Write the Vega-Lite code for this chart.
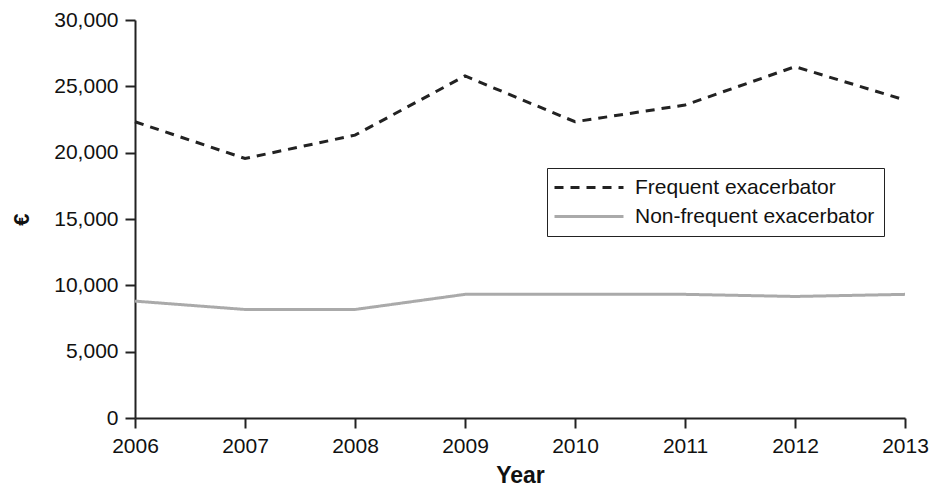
{
  "$schema": "https://vega.github.io/schema/vega-lite/v6.json",
  "width": 770,
  "height": 398,
  "autosize": {"type": "none"},
  "padding": {"left": 135, "top": 20, "right": 25, "bottom": 71},
  "background": "white",
  "config": {
    "view": {"stroke": null},
    "font": "Liberation Sans"
  },
  "data": {
    "values": [
      {"Year": 2006, "Group": "Frequent exacerbator", "Cost": 22330},
      {"Year": 2007, "Group": "Frequent exacerbator", "Cost": 19560},
      {"Year": 2008, "Group": "Frequent exacerbator", "Cost": 21320},
      {"Year": 2009, "Group": "Frequent exacerbator", "Cost": 25780},
      {"Year": 2010, "Group": "Frequent exacerbator", "Cost": 22330},
      {"Year": 2011, "Group": "Frequent exacerbator", "Cost": 23590},
      {"Year": 2012, "Group": "Frequent exacerbator", "Cost": 26480},
      {"Year": 2013, "Group": "Frequent exacerbator", "Cost": 23970},
      {"Year": 2006, "Group": "Non-frequent exacerbator", "Cost": 8810},
      {"Year": 2007, "Group": "Non-frequent exacerbator", "Cost": 8180},
      {"Year": 2008, "Group": "Non-frequent exacerbator", "Cost": 8180},
      {"Year": 2009, "Group": "Non-frequent exacerbator", "Cost": 9320},
      {"Year": 2010, "Group": "Non-frequent exacerbator", "Cost": 9320},
      {"Year": 2011, "Group": "Non-frequent exacerbator", "Cost": 9320},
      {"Year": 2012, "Group": "Non-frequent exacerbator", "Cost": 9160},
      {"Year": 2013, "Group": "Non-frequent exacerbator", "Cost": 9320}
    ]
  },
  "mark": {"type": "line", "strokeWidth": 3},
  "encoding": {
    "x": {
      "field": "Year",
      "type": "quantitative",
      "scale": {"domain": [2006, 2013], "nice": false, "zero": false},
      "axis": {
        "values": [2006, 2007, 2008, 2009, 2010, 2011, 2012, 2013],
        "format": "d",
        "grid": false,
        "labelFlush": false,
        "domainColor": "#222222",
        "domainWidth": 2,
        "tickColor": "#222222",
        "tickWidth": 2,
        "tickSize": 10,
        "labelFontSize": 21,
        "labelColor": "#111111",
        "labelPadding": 7,
        "title": "Year",
        "titleFontSize": 23,
        "titleFontWeight": "bold",
        "titleColor": "#111111",
        "titlePadding": 8
      }
    },
    "y": {
      "field": "Cost",
      "type": "quantitative",
      "scale": {"domain": [0, 30000], "nice": false},
      "axis": {
        "values": [0, 5000, 10000, 15000, 20000, 25000, 30000],
        "format": ",.0f",
        "grid": false,
        "domainColor": "#222222",
        "domainWidth": 2,
        "tickColor": "#222222",
        "tickWidth": 2,
        "tickSize": 10,
        "labelFontSize": 21,
        "labelColor": "#111111",
        "labelPadding": 7,
        "title": "€",
        "titleFontSize": 22,
        "titleFontWeight": "bold",
        "titleColor": "#111111",
        "titlePadding": 20
      }
    },
    "stroke": {
      "field": "Group",
      "type": "nominal",
      "scale": {
        "domain": ["Frequent exacerbator", "Non-frequent exacerbator"],
        "range": ["#222222", "#aaaaaa"]
      },
      "legend": {
        "title": null,
        "orient": "none",
        "legendX": 412,
        "legendY": 148,
        "direction": "vertical",
        "strokeColor": "#222222",
        "fillColor": "white",
        "padding": 9,
        "symbolType": "M-2.4,0H11.4",
        "symbolSize": 100,
        "symbolStrokeWidth": 3,
        "labelFontSize": 21,
        "labelColor": "#111111",
        "labelOffset": 58,
        "rowPadding": 7,
        "labelLimit": 400
      }
    },
    "strokeDash": {
      "field": "Group",
      "type": "nominal",
      "scale": {
        "domain": ["Frequent exacerbator", "Non-frequent exacerbator"],
        "range": [[9, 7], [1, 0]]
      },
      "legend": null
    }
  }
}
